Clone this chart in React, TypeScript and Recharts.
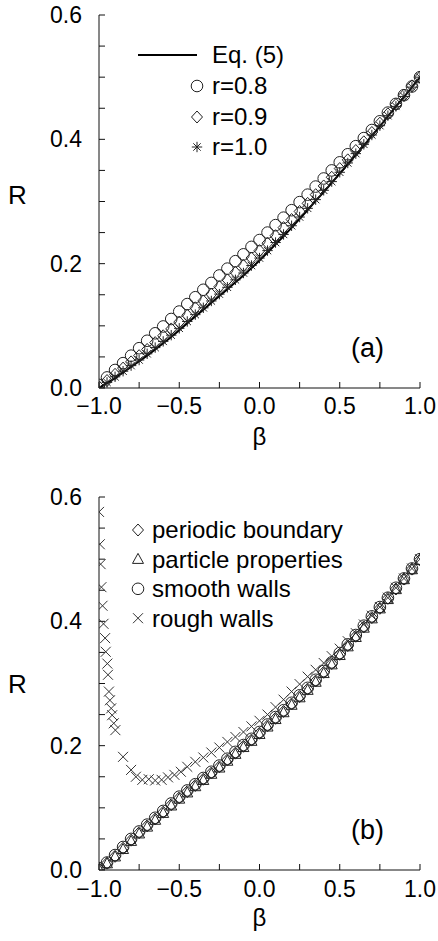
import React from 'react';
import { ComposedChart, Line, Scatter, XAxis, YAxis, Legend } from 'recharts';

// beta grid used by the uniformly sampled series
const BETA = [
  -1.0, -0.95, -0.9, -0.85, -0.8, -0.75, -0.7, -0.65, -0.6, -0.55, -0.5,
  -0.45, -0.4, -0.35, -0.3, -0.25, -0.2, -0.15, -0.1, -0.05, 0.0,
  0.05, 0.1, 0.15, 0.2, 0.25, 0.3, 0.35, 0.4, 0.45, 0.5,
  0.55, 0.6, 0.65, 0.7, 0.75, 0.8, 0.85, 0.9, 0.95, 1.0,
];

// panel (a)
const EQ5_R = [
  0.000, 0.008, 0.016, 0.025, 0.034, 0.043, 0.052, 0.062, 0.072, 0.082, 0.093,
  0.104, 0.115, 0.126, 0.137, 0.148, 0.159, 0.170, 0.181, 0.193, 0.205,
  0.218, 0.231, 0.244, 0.258, 0.272, 0.286, 0.301, 0.315, 0.330, 0.345,
  0.360, 0.375, 0.390, 0.406, 0.421, 0.437, 0.453, 0.468, 0.484, 0.500,
];
const R08_R = [
  0.005, 0.017, 0.029, 0.040, 0.052, 0.064, 0.076, 0.088, 0.099, 0.111, 0.123,
  0.135, 0.146, 0.158, 0.169, 0.181, 0.192, 0.204, 0.215, 0.227, 0.238,
  0.250, 0.262, 0.274, 0.286, 0.299, 0.311, 0.324, 0.337, 0.350, 0.363,
  0.376, 0.389, 0.402, 0.415, 0.429, 0.443, 0.457, 0.471, 0.485, 0.500,
];
const R09_R = [
  0.002, 0.012, 0.022, 0.032, 0.042, 0.052, 0.062, 0.073, 0.084, 0.095, 0.106,
  0.117, 0.129, 0.140, 0.151, 0.163, 0.174, 0.186, 0.197, 0.209, 0.221,
  0.233, 0.245, 0.258, 0.271, 0.284, 0.297, 0.311, 0.325, 0.339, 0.353,
  0.367, 0.382, 0.396, 0.411, 0.426, 0.441, 0.456, 0.471, 0.486, 0.500,
];
const R10_R = [
  0.000, 0.009, 0.018, 0.027, 0.036, 0.045, 0.055, 0.065, 0.075, 0.085, 0.096,
  0.107, 0.118, 0.129, 0.140, 0.151, 0.162, 0.174, 0.185, 0.197, 0.209,
  0.221, 0.234, 0.247, 0.261, 0.275, 0.289, 0.303, 0.318, 0.332, 0.347,
  0.362, 0.377, 0.392, 0.407, 0.422, 0.438, 0.453, 0.469, 0.484, 0.500,
];

// panel (b)
const PERIODIC_R = [
  0.002, 0.011, 0.022, 0.035, 0.048, 0.060, 0.071, 0.082, 0.093, 0.105, 0.116,
  0.126, 0.136, 0.146, 0.156, 0.166, 0.177, 0.188, 0.199, 0.209, 0.220,
  0.232, 0.244, 0.255, 0.267, 0.279, 0.291, 0.304, 0.318, 0.332, 0.347,
  0.361, 0.376, 0.391, 0.406, 0.421, 0.437, 0.452, 0.468, 0.484, 0.499,
];
const PARTICLE_R = [
  0.001, 0.010, 0.021, 0.033, 0.046, 0.058, 0.069, 0.080, 0.091, 0.103, 0.114,
  0.124, 0.134, 0.144, 0.154, 0.164, 0.175, 0.186, 0.197, 0.207, 0.218,
  0.230, 0.242, 0.253, 0.265, 0.277, 0.289, 0.302, 0.316, 0.330, 0.345,
  0.359, 0.374, 0.389, 0.404, 0.420, 0.435, 0.451, 0.467, 0.483, 0.498,
];
const SMOOTH_R = [
  0.003, 0.012, 0.024, 0.037, 0.050, 0.062, 0.073, 0.084, 0.095, 0.107, 0.118,
  0.128, 0.138, 0.148, 0.158, 0.168, 0.179, 0.190, 0.201, 0.211, 0.222,
  0.234, 0.246, 0.257, 0.269, 0.281, 0.293, 0.306, 0.320, 0.334, 0.349,
  0.363, 0.378, 0.393, 0.408, 0.423, 0.438, 0.454, 0.469, 0.485, 0.500,
];
const ROUGH_BETA = [
  -1.0, -0.995, -0.99, -0.985, -0.978, -0.972, -0.962, -0.958, -0.948, -0.944,
  -0.938, -0.932, -0.924, -0.918, -0.908, -0.898,
  -0.85, -0.8, -0.77, -0.73, -0.69, -0.65, -0.61, -0.57, -0.53, -0.49,
  -0.45, -0.4, -0.35, -0.3, -0.25, -0.2, -0.15, -0.1, -0.05, 0.0,
  0.05, 0.1, 0.15, 0.2, 0.25, 0.3, 0.35, 0.4, 0.45, 0.5,
  0.55, 0.6, 0.65, 0.7, 0.75, 0.8, 0.85, 0.9, 0.95, 1.0,
];
const ROUGH_R = [
  0.576, 0.524, 0.492, 0.455, 0.425, 0.396, 0.373, 0.351, 0.332, 0.314,
  0.287, 0.273, 0.260, 0.249, 0.236, 0.225,
  0.182, 0.161, 0.150, 0.145, 0.146, 0.144, 0.145, 0.149, 0.153, 0.158,
  0.166, 0.174, 0.181, 0.189, 0.197, 0.206, 0.214, 0.222, 0.231, 0.240,
  0.250, 0.262, 0.274, 0.287, 0.299, 0.311, 0.322, 0.333, 0.344, 0.356,
  0.368, 0.381, 0.395, 0.409, 0.423, 0.438, 0.454, 0.469, 0.485, 0.500,
];

const X_TICKS = [-1, -0.75, -0.5, -0.25, 0, 0.25, 0.5, 0.75, 1];
const Y_TICKS = [0, 0.05, 0.1, 0.15, 0.2, 0.25, 0.3, 0.35, 0.4, 0.45, 0.5, 0.55, 0.6];

const FONT = "'Liberation Sans', Arial, Helvetica, sans-serif";
const INK = '#111';

const zip = (xs: number[], ys: number[]) => xs.map((b, i) => ({ b, R: ys[i] }));

const fmtX = (v: number) =>
  Math.abs(v * 2 - Math.round(v * 2)) < 1e-6 ? v.toFixed(1).replace('-', '\u2212') : '';
const fmtY = (v: number) =>
  Math.abs(v * 5 - Math.round(v * 5)) < 1e-6 ? v.toFixed(1) : '';

// marker glyphs
const Circle = ({ cx, cy }: any) => (
  <circle cx={cx} cy={cy} r={5.8} fill="none" stroke="#222" strokeWidth={1} />
);
const Diamond = ({ cx, cy }: any) => (
  <path d={`M${cx},${cy - 6}L${cx + 5.5},${cy}L${cx},${cy + 6}L${cx - 5.5},${cy}Z`} fill="none" stroke="#222" strokeWidth={1} />
);
const Triangle = ({ cx, cy }: any) => (
  <path d={`M${cx},${cy - 6}L${cx + 5.5},${cy + 4}L${cx - 5.5},${cy + 4}Z`} fill="none" stroke="#222" strokeWidth={1} />
);
const Star = ({ cx, cy }: any) => {
  const s = 5.2, d = 3.7;
  return (
    <path
      d={`M${cx},${cy - s}L${cx},${cy + s}M${cx - s},${cy}L${cx + s},${cy}M${cx - d},${cy - d}L${cx + d},${cy + d}M${cx - d},${cy + d}L${cx + d},${cy - d}`}
      stroke="#222" strokeWidth={1} />
  );
};
const Cross = ({ cx, cy }: any) => {
  const s = 5;
  return (
    <path d={`M${cx - s},${cy - s}L${cx + s},${cy + s}M${cx - s},${cy + s}L${cx + s},${cy - s}`} stroke="#333" strokeWidth={1} />
  );
};

const shapeOf = (fn: any) => (p: any) => fn(p);

const LegendA = () => (
  <svg width={220} height={125} style={{ overflow: 'visible', fontFamily: FONT }}>
    <line x1={8} x2={67} y1={15} y2={15} stroke="#000" strokeWidth={2} />
    <text x={82} y={15} dy="0.35em" fontSize={24} fill="#000">Eq. (5)</text>
    <Circle cx={67} cy={46} />
    <text x={82} y={46} dy="0.35em" fontSize={24} fill="#000">r=0.8</text>
    <Diamond cx={67} cy={77} />
    <text x={82} y={77} dy="0.35em" fontSize={24} fill="#000">r=0.9</text>
    <Star cx={67} cy={107} />
    <text x={82} y={107} dy="0.35em" fontSize={24} fill="#000">r=1.0</text>
  </svg>
);

const LegendB = () => {
  const rows = [
    { Mark: Diamond, name: 'periodic boundary' },
    { Mark: Triangle, name: 'particle properties' },
    { Mark: Circle, name: 'smooth walls' },
    { Mark: Cross, name: 'rough walls' },
  ];
  return (
    <svg width={240} height={125} style={{ overflow: 'visible', fontFamily: FONT }}>
      {rows.map((r, i) => (
        <g key={r.name}>
          <r.Mark cx={13} cy={15 + i * 29.4} />
          <text x={27} y={15 + i * 29.4} dy="0.35em" fontSize={24} fill="#000">{r.name}</text>
        </g>
      ))}
    </svg>
  );
};

const frameAxes = (rDy: number, betaOffset: number, xMargin: number) => [
  <XAxis key="xb" dataKey="b" type="number" domain={[-1, 1]} ticks={X_TICKS} interval={0}
    tickFormatter={fmtX} tickSize={-6} tickMargin={xMargin} height={30} stroke={INK}
    tick={{ fill: '#000', fontSize: 23 }} allowDataOverflow
    label={{ value: '\u03b2', position: 'bottom', offset: betaOffset, fill: '#000', fontSize: 24 }} />,
  <XAxis key="xt" xAxisId="top" orientation="top" type="number" domain={[-1, 1]} ticks={X_TICKS}
    interval={0} tick={false} tickSize={-6} height={0} stroke={INK} allowDataOverflow />,
  <YAxis key="yl" type="number" domain={[0, 0.6]} ticks={Y_TICKS} interval={0}
    tickFormatter={fmtY} tickSize={-6} tickMargin={23} width={60} stroke={INK}
    tick={{ fill: '#000', fontSize: 23 }} allowDataOverflow
    label={{ value: 'R', position: 'insideLeft', offset: -31, dy: rDy, fill: '#000', fontSize: 26 }} />,
  <YAxis key="yr" yAxisId="right" orientation="right" type="number" domain={[0, 0.6]} ticks={Y_TICKS}
    interval={0} tick={false} tickSize={-6} width={0} stroke={INK} allowDataOverflow />,
];

const panelLabel = (text: string, top: number) => (
  <div style={{ position: 'absolute', left: 351, top, fontSize: 27, lineHeight: '30px', color: '#000' }}>{text}</div>
);

export default function App() {
  return (
    <div style={{ position: 'absolute', left: 0, top: 0, width: 438, height: 941, background: '#fff', fontFamily: FONT }}>
      <div style={{ position: 'absolute', left: 0, top: 0 }}>
        <ComposedChart width={438} height={470} margin={{ top: 15, right: 18, bottom: 52, left: 39 }}>
          {frameAxes(-7, 10, 16)}
          <Line data={zip(BETA, EQ5_R)} dataKey="R" type="linear" stroke="#000" strokeWidth={2}
            dot={false} activeDot={false} isAnimationActive={false} />
          <Scatter data={zip(BETA, R08_R)} dataKey="R" shape={shapeOf(Circle)} isAnimationActive={false} />
          <Scatter data={zip(BETA, R09_R)} dataKey="R" shape={shapeOf(Diamond)} isAnimationActive={false} />
          <Scatter data={zip(BETA, R10_R)} dataKey="R" shape={shapeOf(Star)} isAnimationActive={false} />
          <Legend layout="horizontal" verticalAlign="middle" align="center"
            wrapperStyle={{ left: 130, top: 40, width: 220 }} content={() => <LegendA />} />
        </ComposedChart>
        {panelLabel('(a)', 333)}
      </div>
      <div style={{ position: 'absolute', left: 0, top: 470 }}>
        <ComposedChart width={438} height={471} margin={{ top: 27, right: 18, bottom: 41, left: 39 }}>
          {frameAxes(0, 9, 17)}
          <Scatter data={zip(ROUGH_BETA, ROUGH_R)} dataKey="R" shape={shapeOf(Cross)} isAnimationActive={false} />
          <Scatter data={zip(BETA, SMOOTH_R)} dataKey="R" shape={shapeOf(Circle)} isAnimationActive={false} />
          <Scatter data={zip(BETA, PARTICLE_R)} dataKey="R" shape={shapeOf(Triangle)} isAnimationActive={false} />
          <Scatter data={zip(BETA, PERIODIC_R)} dataKey="R" shape={shapeOf(Diamond)} isAnimationActive={false} />
          <Legend layout="horizontal" verticalAlign="middle" align="center"
            wrapperStyle={{ left: 125, top: 45, width: 240 }} content={() => <LegendB />} />
        </ComposedChart>
        {panelLabel('(b)', 345)}
      </div>
    </div>
  );
}
